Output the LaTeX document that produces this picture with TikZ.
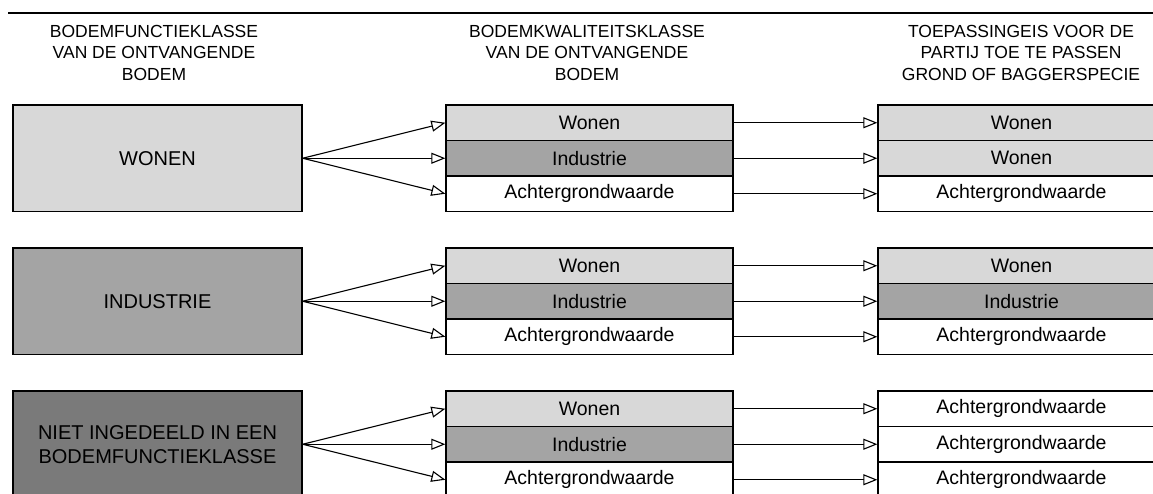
\documentclass[tikz,border=0pt]{standalone}
\usepackage{fontspec}
\setmainfont{Liberation Sans}
\usetikzlibrary{arrows.meta}
\definecolor{lightg}{HTML}{D8D8D8}
\definecolor{midg}{HTML}{A4A4A4}
\definecolor{darkg}{HTML}{7A7A7A}
\begin{document}
\begin{tikzpicture}[x=1pt,y=-1pt,
  lbox/.style={draw=black, line width=1.4pt, minimum width=289pt, minimum height=106.5pt, inner sep=0pt, align=center, font=\fontsize{20}{24}\selectfont},
  rowbox/.style={draw=black, line width=1.3pt, minimum width=287pt, minimum height=35.5pt, inner sep=0pt, font=\fontsize{19.5}{22}\selectfont},
  wonen/.style={rowbox, fill=lightg},
  indus/.style={rowbox, fill=midg},
  achter/.style={rowbox, fill=white},
  hdr/.style={anchor=north, inner sep=0pt, align=center, font=\fontsize{17.5}{21.5}\selectfont},
  conn/.style={line width=1.1pt, -{Triangle[length=14pt,width=11pt,fill=white,line width=1.1pt]}}
]
\useasboundingbox (0,0) rectangle (1153,494);
% top rule
\coordinate (r1) at (8,13);
\coordinate (r2) at (1153,13);
\draw[line width=1.8pt] (r1) -- (r2);
% headers
\node[hdr] (h1) at (154,25) {BODEMFUNCTIEKLASSE\\VAN DE ONTVANGENDE\\BODEM};
\node[hdr] (h2) at (587,25) {BODEMKWALITEITSKLASSE\\VAN DE ONTVANGENDE\\BODEM};
\node[hdr] (h3) at (1021,25) {TOEPASSINGEIS VOOR DE\\PARTIJ TOE TE PASSEN\\GROND OF BAGGERSPECIE};
% left boxes
\node[lbox, fill=lightg] (L1) at (157.5,158.25) {WONEN};
\node[lbox, fill=midg] (L2) at (157.5,301.25) {INDUSTRIE};
\node[lbox, fill=darkg] (L3) at (157.5,444.25) {NIET INGEDEELD IN EEN\\BODEMFUNCTIEKLASSE};
% middle boxes
\node[wonen] (M1a) at (589.5,122.75) {Wonen};
\node[indus] (M1b) at (589.5,158.25) {Industrie};
\node[achter] (M1c) at (589.5,193.75) {Achtergrondwaarde};
\node[wonen] (M2a) at (589.5,265.75) {Wonen};
\node[indus] (M2b) at (589.5,301.25) {Industrie};
\node[achter] (M2c) at (589.5,336.75) {Achtergrondwaarde};
\node[wonen] (M3a) at (589.5,408.75) {Wonen};
\node[indus] (M3b) at (589.5,444.25) {Industrie};
\node[achter] (M3c) at (589.5,479.75) {Achtergrondwaarde};
% right boxes
\node[wonen] (R1a) at (1021.5,122.75) {Wonen};
\node[wonen] (R1b) at (1021.5,158.25) {Wonen};
\node[achter] (R1c) at (1021.5,193.75) {Achtergrondwaarde};
\node[wonen] (R2a) at (1021.5,265.75) {Wonen};
\node[indus] (R2b) at (1021.5,301.25) {Industrie};
\node[achter] (R2c) at (1021.5,336.75) {Achtergrondwaarde};
\node[achter] (R3a) at (1021.5,408.75) {Achtergrondwaarde};
\node[achter] (R3b) at (1021.5,444.25) {Achtergrondwaarde};
\node[achter] (R3c) at (1021.5,479.75) {Achtergrondwaarde};
% connectors
\foreach \g in {1,2,3}{
  \foreach \r in {a,b,c}{
    \draw[conn] (L\g.east) -- (M\g\r.west);
    \draw[conn] (M\g\r.east) -- (R\g\r.west);
  }
}
\end{tikzpicture}
\end{document}
